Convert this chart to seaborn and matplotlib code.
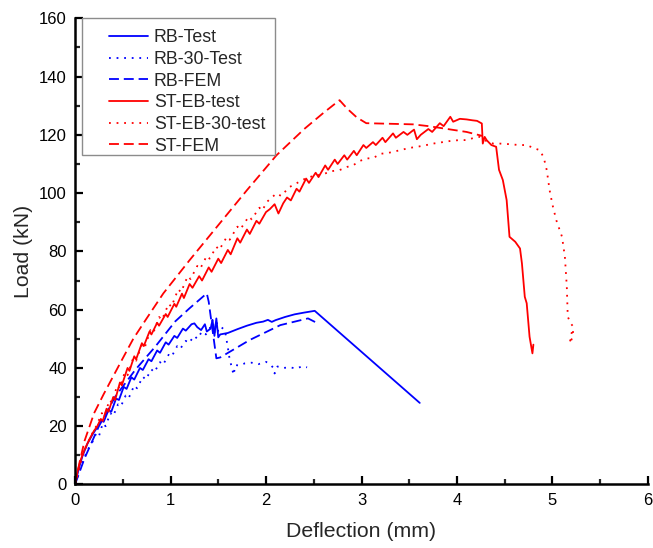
import matplotlib
matplotlib.use('Agg')
import matplotlib.pyplot as plt
from matplotlib.legend_handler import HandlerLine2D
from matplotlib.patches import Rectangle
from matplotlib.ticker import MultipleLocator
import seaborn as sns

# Load-deflection data
rb_test_x = [0.00, 0.04, 0.08, 0.13, 0.18, 0.23, 0.27, 0.30, 0.35, 0.38, 0.43, 0.46, 0.51, 0.54,
             0.59, 0.62, 0.68, 0.71, 0.77, 0.80, 0.86, 0.89, 0.95, 0.98, 1.04, 1.07, 1.13, 1.16,
             1.22, 1.25, 1.28, 1.32, 1.36, 1.38, 1.42, 1.44, 1.46, 1.48, 1.50, 1.52, 1.60, 1.70,
             1.80, 1.90, 1.97, 2.02, 2.06, 2.10, 2.20, 2.30, 2.40, 2.51, 3.61]
rb_test_y = [0.0, 5.5, 10.0, 14.0, 17.0, 19.5, 22.0, 21.5, 25.5, 25.0, 29.5, 29.0, 33.5, 32.8,
             36.8, 36.0, 40.0, 39.3, 43.0, 42.3, 46.0, 45.2, 48.8, 48.0, 51.0, 50.3, 53.5, 52.8,
             55.0, 55.3, 54.0, 53.0, 55.0, 52.5, 53.5, 56.5, 51.0, 57.0, 50.5, 51.5, 52.0, 53.3,
             54.5, 55.5, 55.9, 56.5, 55.8, 56.4, 57.5, 58.4, 59.0, 59.6, 28.0]

rb_30_x = [0.00, 0.05, 0.10, 0.15, 0.19, 0.22, 0.25, 0.29, 0.32, 0.37, 0.40, 0.45, 0.48, 0.53,
           0.56, 0.62, 0.65, 0.71, 0.74, 0.80, 0.83, 0.89, 0.92, 0.98, 1.01, 1.07, 1.10, 1.16,
           1.19, 1.25, 1.28, 1.33, 1.37, 1.41, 1.44, 1.46, 1.48, 1.50, 1.53, 1.57, 1.59, 1.61,
           1.62, 1.64, 1.66, 1.68, 1.72, 1.78, 1.85, 1.92, 2.00, 2.05, 2.08, 2.09, 2.12, 2.18,
           2.25, 2.32, 2.38, 2.43]
rb_30_y = [0.0, 5.0, 9.5, 13.0, 15.0, 17.5, 16.5, 21.0, 20.0, 24.5, 23.5, 27.5, 26.8, 30.5,
           29.5, 34.0, 33.0, 37.0, 36.0, 39.5, 38.5, 42.0, 41.0, 44.5, 43.8, 47.5, 46.5, 49.3,
           48.5, 51.0, 50.0, 52.5, 51.5, 53.5, 56.5, 52.0, 56.4, 52.5, 54.0, 53.0, 49.0, 45.0,
           42.7, 40.5, 37.6, 41.0, 40.8, 41.6, 41.8, 41.3, 42.1, 41.0, 39.9, 38.1, 40.5, 40.0,
           40.2, 39.8, 40.6, 40.2]

rb_fem_x = [0.00, 0.10, 0.25, 0.42, 0.63, 0.84, 1.05, 1.20, 1.38, 1.40, 1.48, 1.52, 1.83, 2.15,
            2.44, 2.53]
rb_fem_y = [0.0, 9.0, 20.0, 30.1, 39.3, 47.3, 56.0, 60.5, 65.6, 62.7, 43.3, 43.6, 49.6, 54.7,
            57.0, 55.5]

st_test_x = [0.00, 0.03, 0.06, 0.10, 0.15, 0.20, 0.23, 0.27, 0.29, 0.33, 0.35, 0.40, 0.42, 0.47,
             0.49, 0.55, 0.57, 0.62, 0.64, 0.70, 0.72, 0.78, 0.80, 0.86, 0.88, 0.95, 0.97, 1.04,
             1.06, 1.12, 1.14, 1.20, 1.23, 1.30, 1.33, 1.40, 1.43, 1.50, 1.53, 1.60, 1.63, 1.70,
             1.73, 1.80, 1.83, 1.90, 1.93, 2.00, 2.04, 2.09, 2.13, 2.18, 2.22, 2.26, 2.32, 2.35,
             2.42, 2.45, 2.52, 2.55, 2.62, 2.65, 2.72, 2.75, 2.82, 2.85, 2.92, 2.95, 3.02, 3.05,
             3.12, 3.15, 3.22, 3.25, 3.33, 3.36, 3.44, 3.48, 3.55, 3.58, 3.62, 3.70, 3.74, 3.82,
             3.86, 3.93, 3.96, 4.03, 4.10, 4.16, 4.21, 4.26, 4.27, 4.29, 4.31, 4.36, 4.41, 4.44,
             4.48, 4.52, 4.55, 4.61, 4.66, 4.68, 4.71, 4.73, 4.76, 4.79, 4.80]
st_test_y = [0.0, 5.0, 8.5, 12.0, 15.5, 18.5, 19.8, 22.5, 21.8, 26.0, 25.0, 30.0, 29.0, 35.0,
             34.0, 40.0, 39.0, 44.0, 43.0, 48.5, 47.5, 52.5, 51.5, 55.5, 54.5, 58.5, 57.5, 62.0,
             61.0, 65.5, 64.0, 68.8, 67.5, 71.5, 70.0, 74.5, 73.0, 77.5, 76.0, 80.5, 79.0, 84.5,
             83.0, 87.5, 86.0, 90.5, 89.5, 93.5, 94.5, 96.2, 93.0, 96.5, 98.5, 97.5, 101.5, 100.5,
             105.0, 103.5, 107.0, 105.5, 109.5, 108.0, 111.5, 110.0, 113.0, 111.5, 114.5, 113.0, 116.5, 115.5,
             117.5, 116.5, 119.0, 117.5, 120.5, 119.0, 121.0, 120.0, 121.8, 118.5, 120.0, 122.0, 121.0, 124.0,
             123.0, 126.2, 124.5, 125.5, 125.3, 125.0, 124.8, 123.9, 117.0, 119.3, 118.2, 116.5, 115.9, 108.0,
             104.5, 97.6, 85.0, 83.3, 81.0, 75.9, 64.4, 62.2, 50.7, 45.0, 48.0]

st_30_x = [0.00, 0.04, 0.08, 0.13, 0.18, 0.23, 0.28, 0.31, 0.36, 0.39, 0.44, 0.47, 0.52, 0.55,
           0.61, 0.64, 0.70, 0.73, 0.79, 0.82, 0.88, 0.91, 0.98, 1.01, 1.08, 1.11, 1.18, 1.21,
           1.28, 1.31, 1.38, 1.41, 1.48, 1.51, 1.59, 1.62, 1.70, 1.73, 1.82, 1.85, 1.93, 1.96,
           2.01, 2.06, 2.11, 2.16, 2.24, 2.30, 2.38, 2.45, 2.52, 2.60, 2.68, 2.77, 2.85, 2.91,
           2.98, 3.05, 3.12, 3.20, 3.28, 3.40, 3.50, 3.60, 3.68, 3.75, 3.85, 3.95, 4.03, 4.10,
           4.18, 4.24, 4.30, 4.38, 4.45, 4.55, 4.65, 4.73, 4.80, 4.87, 4.91, 4.94, 4.97, 5.00,
           5.04, 5.10, 5.13, 5.15, 5.16, 5.19, 5.22, 5.21, 5.18, 5.21]
st_30_y = [0.0, 5.0, 10.0, 14.0, 17.5, 20.5, 24.5, 23.5, 29.0, 28.0, 34.0, 33.0, 38.5, 37.5,
           43.5, 42.5, 48.0, 47.0, 53.0, 52.0, 57.5, 56.5, 62.0, 61.0, 67.0, 66.0, 71.5, 70.5,
           75.0, 74.0, 78.5, 77.5, 81.6, 80.5, 85.0, 84.0, 88.5, 87.5, 92.0, 91.0, 95.0, 94.0,
           97.0, 98.5, 99.9, 99.0, 102.0, 103.0, 104.5, 105.5, 106.0, 106.5, 107.5, 107.9, 109.0, 109.5,
           111.0, 111.9, 112.0, 113.5, 113.8, 114.7, 115.5, 116.0, 116.5, 117.0, 117.5, 118.0, 118.2, 118.2,
           119.0, 119.3, 118.0, 117.0, 117.0, 116.8, 116.5, 116.5, 115.5, 114.7, 112.0, 107.9, 101.0, 96.0,
           90.7, 85.0, 78.1, 67.9, 57.6, 55.3, 54.1, 50.5, 48.4, 53.6]

st_fem_x = [0.00, 0.05, 0.10, 0.20, 0.30, 0.49, 0.61, 0.75, 0.925, 1.20, 1.50, 1.80, 2.11, 2.40,
            2.60, 2.77, 2.85, 2.95, 3.05, 3.30, 3.54, 3.70, 3.86, 4.10, 4.27]
st_fem_y = [0.0, 8.0, 15.0, 24.5, 31.0, 42.7, 50.0, 57.0, 65.6, 77.0, 89.0, 101.0, 113.0, 122.0,
            127.5, 131.9, 129.0, 126.0, 124.0, 123.8, 123.6, 123.0, 122.2, 121.0, 119.6]

series = [
    ('RB-Test', rb_test_x, rb_test_y, '#0000FF', '-'),
    ('RB-30-Test', rb_30_x, rb_30_y, '#0000FF', (0, (1, 3.2))),
    ('RB-FEM', rb_fem_x, rb_fem_y, '#0000FF', (0, (5.5, 2.7))),
    ('ST-EB-test', st_test_x, st_test_y, '#FF0000', '-'),
    ('ST-EB-30-test', st_30_x, st_30_y, '#FF0000', (0, (1, 3.2))),
    ('ST-FEM', st_fem_x, st_fem_y, '#FF0000', (0, (5.5, 2.7))),
]

sns.set_theme(style='ticks')
plt.rcParams['font.family'] = ['Liberation Sans', 'DejaVu Sans']

fig = plt.figure(figsize=(6.53, 5.48), dpi=100)
ax = fig.add_axes([0.1149, 0.1159, 0.8774, 0.8507])

for name, xs, ys, col, ls in series:
    sns.lineplot(x=xs, y=ys, ax=ax, color=col, linestyle=ls, linewidth=1.3,
                 sort=False, estimator=None, label=name)

ax.set_xlim(0, 6)
ax.set_ylim(0, 160)
ax.xaxis.set_major_locator(MultipleLocator(1))
ax.xaxis.set_minor_locator(MultipleLocator(0.5))
ax.yaxis.set_major_locator(MultipleLocator(20))
ax.yaxis.set_minor_locator(MultipleLocator(10))
ax.tick_params(which='major', direction='in', length=6, width=1.6, labelsize=12,
               colors='black', pad=6)
ax.tick_params(which='minor', direction='in', length=3.5, width=1.6)
for side in ['top', 'right']:
    ax.spines[side].set_visible(False)
for side in ['left', 'bottom']:
    ax.spines[side].set_linewidth(1.8)
    ax.spines[side].set_color('black')

ax.set_xlabel('Deflection (mm)', fontsize=15.3, labelpad=10)
ax.set_ylabel('Load (kN)', fontsize=15.3, labelpad=4)

# legend without its own frame; the box is drawn separately (Origin-style padding)
leg = ax.legend(loc='upper left', bbox_to_anchor=(0.012, 0.992), borderaxespad=0,
                fontsize=12.8, frameon=False, borderpad=0.4, labelspacing=0.265,
                handlelength=3.3, handletextpad=0.34,
                handler_map={plt.Line2D: HandlerLine2D(xpad=1.12)})
fig.patches.append(Rectangle((0.1256, 0.7172), 0.2956, 0.25, transform=fig.transFigure,
                             facecolor='none', edgecolor='0.55', linewidth=1.0, zorder=5))

plt.savefig('out.png', dpi=100)
plt.close()
